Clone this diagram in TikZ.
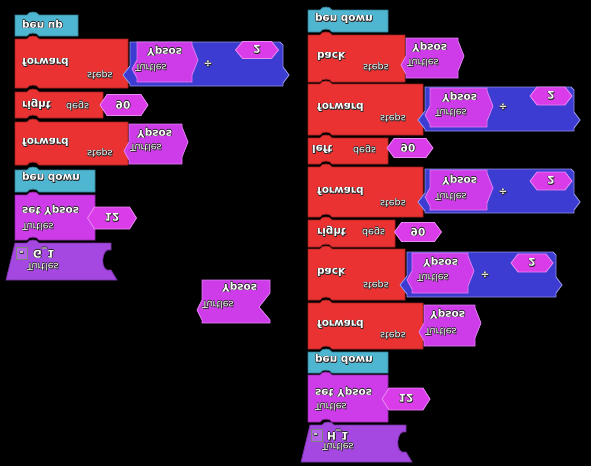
\documentclass[tikz,border=0pt]{standalone}
\usepackage{fontspec}
\setmainfont{DejaVu Sans}
\usepackage{graphicx}
\definecolor{cyanb}{RGB}{78,182,208}
\definecolor{redb}{RGB}{234,50,50}
\definecolor{magb}{RGB}{206,60,234}
\definecolor{hexb}{RGB}{218,60,234}
\definecolor{purpb}{RGB}{165,72,225}
\definecolor{blueb}{RGB}{60,60,210}
\newcommand\shd[3]{\rlap{\color{black!85}\kern#1\raisebox{#2}{#3}}}
\newcommand\fl[1]{\scalebox{1}[-1]{\shd{0.5pt}{0pt}{#1}\shd{-0.5pt}{0pt}{#1}\shd{0pt}{0.5pt}{#1}\shd{0pt}{-0.5pt}{#1}\shd{0.8pt}{0.8pt}{#1}#1}}
% stack block: color, L, T, R, B
\newcommand\stk[5]{\filldraw[fill=#1, draw=#1!70!black, line width=0.8pt]
 (#2,#3) -- ({#2+12},#3) .. controls ({#2+14},{#3-4}) and ({#2+22},{#3-4}) .. ({#2+24},#3)
 -- (#4,#3) -- (#4,#5) -- ({#2+24},#5) .. controls ({#2+22},{#5-4}) and ({#2+14},{#5-4}) .. ({#2+12},#5)
 -- (#2,#5) -- cycle;}
% Ypsos argument block: a, t, b, u
\newcommand\ypsb[4]{\filldraw[fill=magb, draw=magb!65!white, line width=0.8pt]
 (#1,#2) -- (#3,#2) -- (#3,{#2+3}) -- ({#3+6},{#2+18}) -- (#3,{#2+33}) -- (#3,#4) -- (#1,#4)
 -- (#1,{#2+36}) -- ({#1-5},{#2+27}) -- (#1,{#2+18}) -- cycle;}
% divide block: a, t, b, u
\newcommand\divb[4]{\filldraw[fill=blueb, draw=blueb!55!white, line width=0.9pt]
 (#1,#2) -- ({#3-3},#2) -- (#3,{#2+3}) -- (#3,{#2+25}) -- ({#3+6},{#2+33}) -- (#3,{#2+41}) -- (#3,#4) -- (#1,#4)
 -- (#1,{#2+42}) -- ({#1-7},{#2+33}) -- (#1,{#2+24}) -- cycle;}
% number hexagon: cx, cy, w, h
\newcommand\hexbl[4]{\filldraw[fill=hexb, draw=hexb!60!white, line width=0.8pt]
 ({#1-#3/2},#2) -- ({#1-#3/2+7},{#2-#4/2}) -- ({#1+#3/2-7},{#2-#4/2}) -- ({#1+#3/2},#2)
 -- ({#1+#3/2-7},{#2+#4/2}) -- ({#1-#3/2+7},{#2+#4/2}) -- cycle;}
\tikzset{
 lab/.style={anchor=west, inner sep=0pt, text=white, font=\bfseries\fontsize{10.5}{12}\selectfont},
 sub/.style={anchor=west, inner sep=0pt, text=white, font=\fontsize{9.5}{11}\selectfont},
 num/.style={anchor=center, inner sep=0pt, text=white, font=\bfseries\fontsize{10.5}{12}\selectfont},
 hatblk/.style={fill=purpb, draw=purpb!70!black, line width=0.8pt},
 collapse/.style={draw=gray, fill=purpb!85!white, line width=0.6pt}
}
\begin{document}
\begin{tikzpicture}[x=1pt,y=-1pt]
\fill[black] (0,0) rectangle (591,466);
\useasboundingbox (0,0) rectangle (591,466);
% ---------------- left column
\stk{cyanb}{15}{15}{78}{36}
\stk{redb}{15}{39}{128}{88}
\divb{130}{42}{283}{86}
\ypsb{137}{42}{192}{82}
\hexbl{257}{50}{43}{17}
\stk{redb}{15}{92}{103}{118}
\hexbl{124}{105}{48}{21}
\stk{redb}{15}{122}{128}{165}
\ypsb{129}{124}{182}{164}
\stk{cyanb}{15}{170}{95}{192}
\stk{magb}{15}{195}{95}{240}
\hexbl{112}{218}{49}{22}
\filldraw[hatblk] (15,243) -- (27,243) .. controls (29,239) and (37,239) .. (39,243) -- (111,243)
 -- (111,250) .. controls (101,246) and (99,274) .. (111,270) -- (117,280) -- (6,280) -- cycle;
\draw[collapse] (16,247) rectangle (27,259);
% standalone
\filldraw[fill=magb, draw=magb!65!white, line width=0.8pt] (202,280) -- (270,280) -- (270,293) -- (259,307)
 -- (270,320) -- (270,323) -- (202,323) -- (202,320) -- (197,310) -- (202,300) -- cycle;
% ---------------- right column
\stk{cyanb}{308}{10}{388}{32}
\stk{redb}{308}{35}{405}{82}
\ypsb{406}{38}{458}{78}
\stk{redb}{308}{84}{423}{135}
\divb{425}{87}{574}{131}
\ypsb{430}{88}{487}{127}
\hexbl{551}{96}{42}{18}
\stk{redb}{308}{138}{388}{164}
\hexbl{410}{148}{46}{19}
\stk{redb}{308}{167}{423}{217}
\divb{425}{169}{574}{213}
\ypsb{430}{170}{487}{210}
\hexbl{551}{181}{42}{18}
\stk{redb}{308}{220}{395}{247}
\hexbl{418}{232}{47}{19}
\stk{redb}{308}{249}{405}{300}
\divb{407}{252}{556}{297}
\ypsb{412}{253}{468}{293}
\hexbl{532}{263}{42}{18}
\stk{redb}{308}{303}{423}{349}
\ypsb{424}{305}{475}{346}
\stk{cyanb}{308}{352}{388}{373}
\stk{magb}{308}{375}{388}{422}
\hexbl{406}{399}{48}{22}
\begin{scope}[shift={(295,182)}]
\filldraw[hatblk] (15,243) -- (27,243) .. controls (29,239) and (37,239) .. (39,243) -- (111,243)
 -- (111,250) .. controls (101,246) and (99,274) .. (111,270) -- (117,280) -- (6,280) -- cycle;
\draw[collapse] (16,247) rectangle (27,259);
\end{scope}
% ---------------- texts, left
\node[lab] (l1) at (22,24) {\fl{pen up}};
\node[lab] (l2) at (22,63) {\fl{forward}};
\node[sub] (l2s) at (87,75) {\fl{steps}};
\node[lab] (l3) at (147,51) {\fl{Ypsos}};
\node[sub] (l3s) at (135,68) {\fl{Turtles}};
\node[num] (l3d) at (208,64) {\fl{÷}};
\node[num] (l3n) at (257,50) {\fl{2}};
\node[lab] (l4) at (22,105) {\fl{right}};
\node[sub] (l4s) at (66,106) {\fl{degs}};
\node[num] (l4n) at (123,105) {\fl{90}};
\node[lab] (l5) at (22,143) {\fl{forward}};
\node[sub] (l5s) at (87,153) {\fl{steps}};
\node[lab] (l6) at (137,133) {\fl{Ypsos}};
\node[sub] (l6s) at (130,148) {\fl{Turtles}};
\node[lab] (l7) at (22,178) {\fl{pen down}};
\node[lab] (l8) at (22,210) {\fl{set Ypsos}};
\node[sub] (l8s) at (22,227) {\fl{Turtles}};
\node[num] (l8n) at (112,218) {\fl{12}};
\node[num] (l9b) at (21.5,252) {\fl{-}};
\node[lab] (l9) at (33,253) {\fl{G\_1}};
\node[sub] (l9s) at (27,267) {\fl{Turtles}};
\node[lab] (s1) at (222,287) {\fl{Ypsos}};
\node[sub] (s1s) at (202,305) {\fl{Turtles}};
% ---------------- texts, right
\node[lab] (r1) at (315,19) {\fl{pen down}};
\node[lab] (r2) at (317,57) {\fl{back}};
\node[sub] (r2s) at (363,67) {\fl{steps}};
\node[lab] (r3) at (412,47) {\fl{Ypsos}};
\node[sub] (r3s) at (407,63) {\fl{Turtles}};
\node[lab] (r4) at (317,108) {\fl{forward}};
\node[sub] (r4s) at (380,118) {\fl{steps}};
\node[lab] (r5) at (442,97) {\fl{Ypsos}};
\node[sub] (r5s) at (435,113) {\fl{Turtles}};
\node[num] (r5d) at (503,107) {\fl{÷}};
\node[num] (r5n) at (551,96) {\fl{2}};
\node[lab] (r6) at (312,150) {\fl{left}};
\node[sub] (r6s) at (353,150) {\fl{degs}};
\node[num] (r6n) at (408,148) {\fl{90}};
\node[lab] (r7) at (317,192) {\fl{forward}};
\node[sub] (r7s) at (380,203) {\fl{steps}};
\node[lab] (r8) at (442,180) {\fl{Ypsos}};
\node[sub] (r8s) at (435,197) {\fl{Turtles}};
\node[num] (r8d) at (503,192) {\fl{÷}};
\node[num] (r8n) at (551,181) {\fl{2}};
\node[lab] (r9) at (317,232) {\fl{right}};
\node[sub] (r9s) at (362,232) {\fl{degs}};
\node[num] (r9n) at (418,232) {\fl{90}};
\node[lab] (r10) at (317,273) {\fl{back}};
\node[sub] (r10s) at (363,285) {\fl{steps}};
\node[lab] (r11) at (423,262) {\fl{Ypsos}};
\node[sub] (r11s) at (417,278) {\fl{Turtles}};
\node[num] (r11d) at (485,275) {\fl{÷}};
\node[num] (r11n) at (532,263) {\fl{2}};
\node[lab] (r12) at (317,325) {\fl{forward}};
\node[sub] (r12s) at (380,335) {\fl{steps}};
\node[lab] (r13) at (430,314) {\fl{Ypsos}};
\node[sub] (r13s) at (425,332) {\fl{Turtles}};
\node[lab] (r14) at (315,360) {\fl{pen down}};
\node[lab] (r15) at (315,392) {\fl{set Ypsos}};
\node[sub] (r15s) at (315,407) {\fl{Turtles}};
\node[num] (r15n) at (406,399) {\fl{12}};
\node[num] (r16b) at (315.5,434) {\fl{-}};
\node[lab] (r16) at (327,435) {\fl{H\_1}};
\node[sub] (r16s) at (322,447) {\fl{Turtles}};
\end{tikzpicture}
\end{document}
